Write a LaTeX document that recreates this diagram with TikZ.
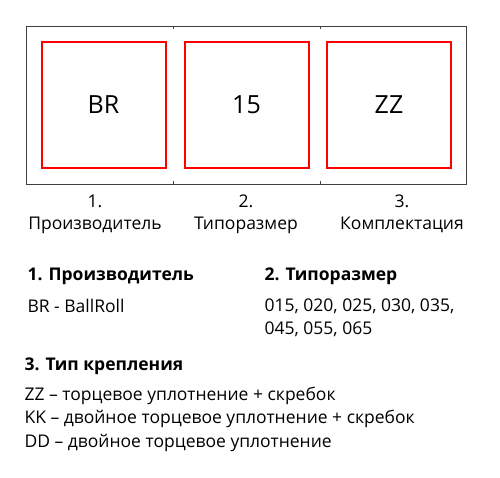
\documentclass[tikz,border=0pt]{standalone}
\usepackage{fontspec}
\setmainfont{Open Sans}
\begin{document}
\begin{tikzpicture}[x=1pt,y=-1pt]
\tikzstyle{cadre}=[draw=black!75,line width=0.9pt]
\tikzset{case/.style={draw=red,line width=2pt,minimum width=124pt,minimum height=126pt,inner sep=0pt,font=\fontsize{25}{28}\selectfont},
legende/.style={align=center,font=\fontsize{17.5}{22}\selectfont},
titre/.style={anchor=west,font=\fontsize{17.5}{20}\selectfont\bfseries},
texte/.style={anchor=west,align=left,font=\fontsize{17.5}{23.5}\selectfont}}
\useasboundingbox (0,0) rectangle (500,477);
% cadre exterieur
\draw[cadre] (26,26) rectangle (466,184);
\coordinate (T1) at (173,26);
\coordinate (T2) at (320,26);
\coordinate (B1) at (173,184);
\coordinate (B2) at (320,184);
\draw[cadre] (T1) -- ++(0,3);
\draw[cadre] (T2) -- ++(0,3);
\draw[cadre] (B1) -- ++(0,-3);
\draw[cadre] (B2) -- ++(0,-3);
% cases
\node[case] (C1) at (103.5,104.5) {BR};
\node[case] (C2) at (246.5,104.5) {15};
\node[case] (C3) at (389,104.5) {ZZ};
\node[legende] (L1) at (95,214) {1.\\Производитель};
\node[legende] (L2) at (246,214) {2.\\Типоразмер};
\node[legende] (L3) at (402,214) {3.\\Комплектация};
% description
\node[titre] (D1) at (24,276) {1. Производитель};
\node[texte] (V1) at (24,306) {BR - BallRoll};
\node[titre] (D2) at (261,276) {2. Типоразмер};
\node[texte] (V2) at (261,318) {015, 020, 025, 030, 035,\\045, 055, 065};
\node[titre] (D3) at (21,366) {3. Тип крепления};
\node[texte] (V3) at (21,419) {ZZ -- торцевое уплотнение + скребок\\KK -- двойное торцевое уплотнение + скребок\\DD -- двойное торцевое уплотнение};
\end{tikzpicture}
\end{document}
